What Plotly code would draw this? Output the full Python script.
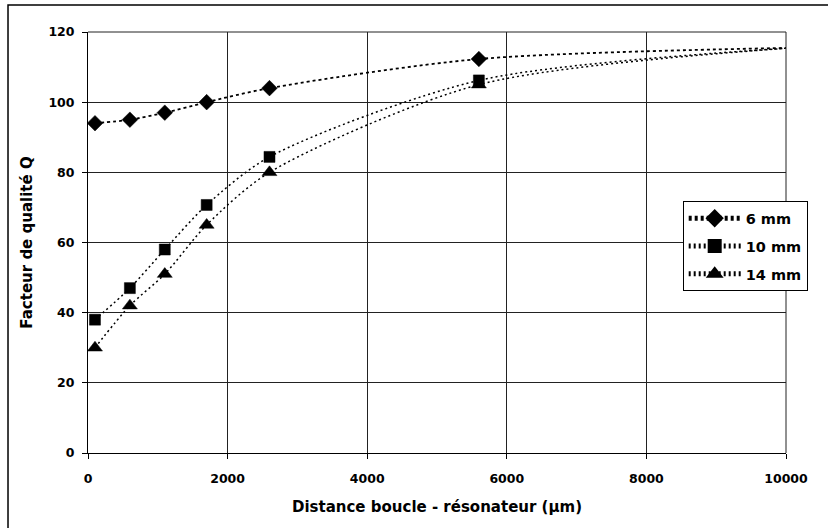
import plotly.graph_objects as go

# Distance boucle - résonateur (µm); the last abscissa carries the smoothed tail of each curve
distance = [100, 600, 1100, 1700, 2600, 5600, 10100]

q_6mm = [94, 95, 97, 100, 104, 112.3, 115.5]
q_10mm = [38, 47, 58, 70.7, 84.4, 106.2, 115.5]
q_14mm = [30, 42, 51, 65, 80, 105, 115.5]

series_names = ["6 mm", "10 mm", "14 mm"]
series_values = [q_6mm, q_10mm, q_14mm]
symbols = ["diamond", "square", "triangle-up"]
marker_sizes = [12, 11, 13]
dashes = ["3px,3px", "2px,3px", "2px,3px"]
widths = [1.8, 1.5, 1.5]

x_ticks = [0, 2000, 4000, 6000, 8000, 10000]
y_ticks = [0, 20, 40, 60, 80, 100, 120]

FONT = "'DejaVu Sans', Arial, sans-serif"

fig = go.Figure()
for name, vals, sym, ms, dash, w in zip(series_names, series_values, symbols,
                                         marker_sizes, dashes, widths):
    sizes = [ms] * (len(vals) - 1) + [0]
    fig.add_trace(go.Scatter(
        x=distance, y=vals, name=name, legendgroup=name, mode="lines+markers",
        line=dict(color="black", width=w, dash=dash, shape="spline", smoothing=0.8),
        marker=dict(symbol=sym, size=sizes, color="#000000", opacity=1,
                    line=dict(color="#000000", width=0.5)),
    ))

fig.update_layout(
    width=828, height=528,
    margin=dict(l=88, r=42, t=32, b=75),
    paper_bgcolor="white", plot_bgcolor="white",
    font=dict(family=FONT, color="black"),
    showlegend=True,
    legend=dict(
        x=0.852, y=0.598, xanchor="left", yanchor="top",
        bgcolor="white", bordercolor="black", borderwidth=1,
        font=dict(family=FONT, size=14.5, color="black", weight="bold"),
        itemsizing="constant", tracegroupgap=6, itemwidth=52,
    ),
    xaxis=dict(
        range=[0, 10000], tickvals=x_ticks, ticktext=[str(v) for v in x_ticks],
        showgrid=True, gridcolor="#222", gridwidth=1,
        showline=True, linecolor="black", linewidth=1,
        ticks="outside", ticklen=5, tickcolor="black",
        tickfont=dict(size=12.5, family=FONT, weight="bold"),
        ticklabelstandoff=9,
        zeroline=False,
        title=dict(text="Distance boucle - résonateur (µm)",
                   font=dict(size=15, family=FONT, weight="bold"), standoff=16),
    ),
    yaxis=dict(
        range=[0, 120], tickvals=y_ticks, ticktext=[str(v) for v in y_ticks],
        showgrid=True, gridcolor="#222", gridwidth=1,
        showline=True, linecolor="black", linewidth=1,
        ticks="outside", ticklen=5, tickcolor="black",
        tickfont=dict(size=12.5, family=FONT, weight="bold"),
        ticklabelstandoff=5,
        zeroline=False,
        title=dict(text="Facteur de qualité Q",
                   font=dict(size=15, family=FONT, weight="bold"), standoff=12),
    ),
    shapes=[
        # chart frame (right and bottom edges fall outside the page)
        dict(type="rect", xref="paper", yref="paper",
             x0=-0.1146, x1=1.07, y0=-0.19, y1=1.064,
             line=dict(color="black", width=1.5), fillcolor="rgba(0,0,0,0)",
             layer="below"),
        # top and right border of the plot area
        dict(type="line", xref="paper", yref="paper", x0=0, x1=1, y0=1, y1=1,
             line=dict(color="#222", width=1)),
        dict(type="line", xref="paper", yref="paper", x0=1, x1=1, y0=0, y1=1,
             line=dict(color="#222", width=1)),
    ],
)

fig.write_html("out.html")
